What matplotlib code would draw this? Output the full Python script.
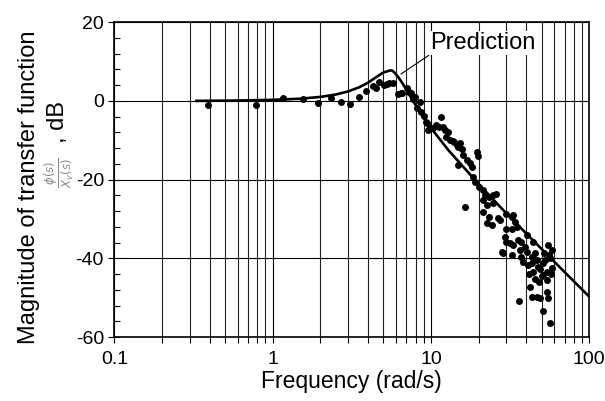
import numpy as np
import matplotlib
matplotlib.use("Agg")
import matplotlib.pyplot as plt
from matplotlib.ticker import LogLocator, MultipleLocator, NullFormatter

plt.rcParams['font.family'] = ['Liberation Sans', 'DejaVu Sans']

# Measured data (frequency rad/s, magnitude dB)
meas_freq = [0.388, 0.78, 1.165, 1.545, 1.94, 2.33, 2.72, 3.07, 3.52, 3.88, 4.28, 4.5, 4.71,
             5.06, 5.25, 5.45, 5.77, 6.2, 6.45, 6.6, 7.07, 7.3, 7.46, 7.72, 7.9, 8.18, 8.5,
             8.7, 9.0, 9.37, 9.5, 9.6, 9.84, 10.3, 10.8, 11.2, 11.6, 11.9, 12.2, 12.5, 12.8,
             13.2, 13.8, 14.0, 14.5, 14.9, 15.2, 15.6, 16.0, 14.9, 16.8, 17.6, 18.1, 19.4,
             19.7, 18.5, 18.9, 20.2, 21.2, 21.9, 23.3, 24.7, 25.9, 16.4, 21.4, 22.5, 24.7,
             21.4, 22.5, 24.2, 23.3, 26.6, 27.2, 30.0, 32.3, 33.1, 30.0, 32.3, 33.9, 34.7,
             29.3, 30.0, 31.5, 33.1, 35.6, 37.3, 40.2, 44.3, 27.9, 28.6, 32.3, 36.5, 37.3,
             38.3, 40.2, 41.1, 43.2, 43.2, 45.3, 46.5, 47.6, 51.2, 52.5, 55.0, 57.8, 56.4,
             57.8, 53.7, 51.2, 44.3, 45.3, 42.2, 43.2, 46.5, 48.7, 53.7, 55.0, 36.1, 50.7,
             56.4, 49.0, 50.0, 54.0, 55.5, 48.0, 52.0, 57.0, 41.5, 39.0]
meas_db = [-1.07, -1.0, 0.8, 0.38, -0.48, 0.6, -0.38, -0.9, 1.04, 2.57, 3.76, 3.3, 4.85,
           4.0, 4.4, 4.44, 4.44, 1.73, 1.9, 2.06, 3.17, 2.2, 1.9, 0.4, 1.04, -1.9, -0.23,
           -2.77, -3.8, -5.3, -5.7, -7.4, -7.0, -7.0, -6.1, -6.6, -4.2, -6.6, -7.4, -9.1, -7.8,
           -9.95, -10.2, -10.4, -11.2, -11.6, -10.8, -12.1, -13.8, -16.3, -15.0, -15.9, -16.7, -12.9,
           -14.0, -19.3, -20.5, -21.8, -22.6, -23.9, -24.3, -23.9, -23.7, -27.0, -25.2, -26.4, -26.0,
           -28.1, -31.1, -31.5, -29.4, -29.8, -30.3, -28.6, -29.4, -29.0, -32.4, -32.4, -30.7, -32.0,
           -34.5, -35.8, -36.2, -36.6, -35.3, -35.8, -34.1, -35.8, -38.3, -38.7, -39.1, -37.9, -39.6,
           -40.8, -38.3, -41.7, -39.6, -41.2, -38.7, -40.4, -42.1, -41.2, -40.4, -36.6, -37.9, -40.0,
           -42.5, -43.4, -44.2, -43.4, -45.1, -47.2, -49.7, -49.7, -50.1, -48.4, -50.1, -50.7, -53.3,
           -56.5, -42.8, -44.5, -45.5, -39.0, -46.0, -38.5, -44.0, -44.0, -37.0]

# Prediction curve
pred_freq = [0.33, 0.5, 0.7, 1.0, 1.5, 2.0, 2.5, 3.0, 3.5, 4.0, 4.5, 5.0, 5.5, 5.7,
             5.9, 6.2, 6.6, 7.0, 8.0, 10.0, 13.0, 20.0, 30.0, 50.0, 70.0, 100.0]
pred_db = [0.0, 0.05, 0.12, 0.25, 0.55, 1.0, 1.6, 2.4, 3.4, 4.6, 6.0, 7.2, 7.7, 7.7,
           7.1, 6.1, 4.5, 2.8, -1.1, -6.9, -12.7, -21.1, -28.6, -37.6, -43.5, -49.7]

fig = plt.figure(figsize=(6.05, 4.01), dpi=100)
ax = fig.add_axes([0.189, 0.159, 0.785, 0.786])

ax.set_xscale('log')
ax.set_xlim(0.1, 100)
ax.set_ylim(-60, 20)

ax.xaxis.set_major_locator(LogLocator(base=10))
ax.xaxis.set_minor_locator(LogLocator(base=10, subs=np.arange(2, 10)))
ax.xaxis.set_minor_formatter(NullFormatter())
ax.yaxis.set_major_locator(MultipleLocator(20))
ax.yaxis.set_minor_locator(MultipleLocator(4))
ax.grid(True, which='major', axis='both', color='black', linewidth=0.8)
ax.grid(True, which='minor', axis='x', color='#222222', linewidth=0.8)
ax.set_axisbelow(True)

ax.set_xticks([0.1, 1, 10, 100])
ax.set_xticklabels(['0.1', '1', '10', '100'])
ax.set_yticks([-60, -40, -20, 0, 20])
ax.set_yticklabels(['-60', '-40', '-20', '0', '20'])

ax.tick_params(axis='x', which='both', direction='out', length=4, width=0.8, labelsize=14, pad=6)
ax.tick_params(axis='y', which='major', direction='inout', length=9, width=0.8, labelsize=14, pad=3)
ax.tick_params(axis='y', which='minor', direction='in', length=4, width=0.8)
for s in ax.spines.values():
    s.set_linewidth(1.2)

ax.plot(pred_freq, pred_db, color='black', linewidth=1.9, zorder=3)
ax.plot(meas_freq, meas_db, 'o', color='black', markersize=5, markeredgewidth=0, zorder=4)

ax.annotate('Prediction', xy=(6.46, 6.8), xytext=(9.9, 14.7), fontsize=17,
            ha='left', va='center',
            bbox=dict(facecolor='white', edgecolor='none', pad=1),
            arrowprops=dict(arrowstyle='-', color='black', linewidth=0.8,
                            relpos=(0.03, 0.08), shrinkA=0, shrinkB=0),
            zorder=5)

ax.set_xlabel('Frequency (rad/s)', fontsize=16.5, labelpad=1)

W, H = 605, 401
fig.text(29 / W, 1 - 187 / H, 'Magnitude of transfer function', rotation=90,
         ha='center', va='center', fontsize=17)
fig.text(58 / W, 1 - 122 / H, ', dB', rotation=90, ha='center', va='center', fontsize=17)
fig.text(60 / W, 1 - 173 / H, r'$\frac{\phi(s)}{X_v(s)}$', rotation=90, ha='center',
         va='center', fontsize=12, color='#888888')

fig.savefig('out.png', dpi=100)
